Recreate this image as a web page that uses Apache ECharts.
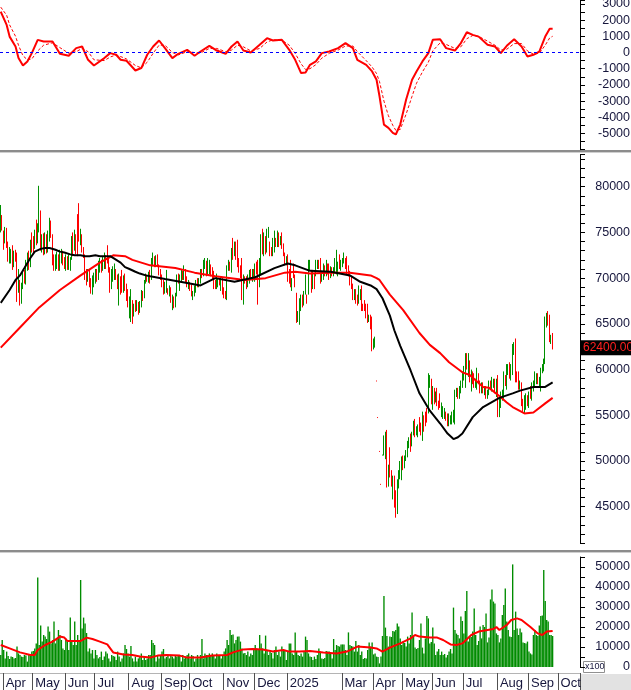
<!DOCTYPE html>
<html><head><meta charset="utf-8">
<script src="https://cdn.jsdelivr.net/npm/echarts@6/dist/echarts.min.js"></script>
<style>html,body{margin:0;padding:0;background:#fff;overflow:hidden}#c{width:631px;height:690px}</style>
</head><body><div id="c"></div>
<script>
const TOTAL_SLOTS = 392;
const monthSlots = [2,22,44,64,87,109,128,151,172,194,231,252,272,292,313,336,357,377];
const monthNames = ['Apr','May','Jun','Jul','Aug','Sep','Oct','Nov','Dec','2025','Mar','Apr','May','Jun','Jul','Aug','Sep','Oct'];

const opens = [
75300,76600,75000,74200,75000,73800,72000,72000,73400,71600,
73000,72600,68500,69600,67600,69000,70500,69800,71000,72600,
71400,74700,74000,73400,76300,74200,75300,77200,73300,74600,
73000,74600,73000,74500,76000,74600,72300,71000,71500,72300,
71000,72000,72800,72000,71000,72200,71000,71200,72200,74600,
73200,74500,75500,76800,73800,74600,73200,72500,70800,69800,
70600,69800,68400,69200,69500,70800,70000,71000,71800,71000,
71400,72200,73300,72000,71000,69000,70000,70200,70800,70200,
68400,70000,70600,68600,70200,69000,68400,66000,66400,67000,
66000,67200,66600,67200,66400,67000,68400,68000,69600,70300,
69800,70600,69900,71600,72300,71500,72400,71300,70900,70200,
69500,68500,68600,68800,68300,68800,66800,67800,67000,68200,
70300,69000,69800,70600,70000,70800,70000,69000,69400,69200,
67800,68200,68600,69800,69200,69600,70800,70400,71200,71600,
70600,70600,71400,70800,70600,69600,69000,69200,69800,68800,
69800,68800,68400,68000,71000,71600,71000,74000,72600,73800,
73600,72000,71200,71800,68000,70000,70000,69200,69600,70800,
69800,70800,70000,71600,71600,69400,70800,75200,72600,74400,
73000,74600,73800,73200,72600,73200,74200,73600,74800,73800,
74800,73600,72600,71600,72400,70600,71600,69000,71200,70200,
68000,65400,65200,66800,68000,67200,68400,68000,68400,71000,
70600,69000,70400,70400,71200,71800,72000,69800,70200,71200,
70400,71400,71000,70200,71000,70400,70800,70800,70600,72200,
71000,71400,71800,72000,72200,71200,70600,70000,69200,67800,
68600,68000,67400,68000,69000,67000,67400,67000,67000,65400,
65800,65600,62400,62600,58800,54800,51100,47500,50600,50700,
50600,52800,47600,51200,48600,46000,47800,46400,44600,47400,
48400,48200,50400,49400,50200,50600,51600,52800,51800,53000,
54400,53000,52800,54600,54000,52600,54800,55200,55600,55600,
58400,58800,56400,57800,56600,57800,56400,57000,55200,55000,
55000,55200,55000,54000,54200,54200,54600,54400,57200,57800,
57000,57600,58200,59000,58400,61400,59400,60800,58200,59600,
59400,58200,58400,59400,58600,57600,58400,57400,58000,57000,
57400,58600,57800,58200,58800,57400,59000,55200,56000,56800,
57400,59200,58000,59600,60400,59000,59600,61800,63200,59600,
59400,58000,58400,56600,55600,55800,57000,56000,57800,57000,
57800,58200,58600,59400,58400,58000,59800,60200,60800,64800,
66000,65800,63000,63600];

const closes = [
77800,75400,73500,75300,73800,72300,73000,72800,71500,72600,
72000,68000,70500,67500,69000,70500,69800,71600,72500,71400,
73600,73200,72900,75000,74000,75600,78300,73600,74500,73300,
74600,73000,74800,76200,74700,72000,71000,72200,72600,71200,
72600,72800,71800,71400,72200,71200,72300,72000,74200,73000,
74800,73000,72800,74600,75000,73100,72500,70200,69600,70800,
69400,68800,70000,70300,70800,70000,71500,71800,71000,72000,
72400,71400,72000,70900,68800,70600,71000,71200,70000,69000,
70200,68600,68600,70000,69000,67800,67000,67600,68200,65600,
67000,66600,67400,66400,67200,68400,67800,69600,70300,69800,
70400,69600,71800,72400,71500,72200,71300,70600,70000,69300,
68400,69300,70600,68300,68900,67600,68000,66900,68000,70200,
69600,70200,70600,70000,71200,69800,69200,69600,68800,68200,
68300,69000,69600,69200,69800,70800,70200,71600,71800,70400,
71800,71600,70400,70000,69200,69000,70000,69800,69400,69800,
68400,68000,67900,71000,71600,71000,72800,72400,73800,72300,
71600,70800,70200,68200,70000,69600,69000,70000,70600,70000,
70800,70200,71400,70600,69800,71400,74200,73200,74600,73000,
75000,75200,72600,72600,74000,74800,73600,74600,73800,74400,
73400,72600,71600,72200,70400,69800,69200,69800,70200,69200,
65400,66000,67600,68000,67000,68300,70200,67400,71400,71800,
68800,70600,69400,71600,71800,71200,70000,70600,71400,70400,
71600,70600,70200,71000,70600,71000,72000,72600,71400,71200,
71800,72000,72500,71400,70600,70400,69400,69000,67800,68600,
67600,67200,68800,68400,66800,66600,66600,65800,65400,65900,
64600,62200,63200,63000,58700,54700,51000,47400,50700,52400,
52800,47600,49200,48600,47600,47800,45200,44600,47600,48600,
49600,50200,49400,50400,51000,52000,52400,51400,53000,54200,
53000,53600,53800,53400,53000,55000,53600,54000,54400,58800,
59000,56800,57800,56600,57400,56200,55800,56000,56200,55800,
55600,54600,54200,55000,54800,55200,55400,57600,57800,57000,
58000,58600,59400,60000,61400,60400,61200,59000,59600,58600,
58200,58800,59600,58600,57800,58400,57600,58000,57000,57600,
58600,58000,58800,58800,57800,58600,56400,56600,57000,57400,
59200,58400,60000,60200,59200,60200,62200,62600,59400,58800,
58200,58600,56400,55600,56800,57000,56200,57200,57000,58200,
58400,59400,59200,58600,59000,59800,60400,61000,65400,65800,
65200,63200,63600,62400];

const lows = [
75000,75200,73100,73800,73300,71800,71600,71600,70900,71200,
71800,67400,68400,67000,67200,68800,69400,69300,70800,70900,
71200,72800,72600,73200,73600,73800,75000,73000,72800,72500,
72600,72700,72800,74000,74400,71400,70800,70800,71000,70800,
70800,71600,71400,71000,70800,70900,70900,70800,72000,72400,
73000,72600,72400,74000,73600,72800,72200,69800,69200,69600,
69000,68300,68200,69000,69400,69600,69800,70600,70600,70800,
71000,71000,71600,70600,68400,68800,69600,69800,69800,68800,
67000,68200,68400,68400,68600,67500,66800,65600,65200,65000,
65800,66300,66400,66000,66200,66800,67500,67800,69400,69600,
69500,69400,69800,71300,71200,71200,71200,70300,69800,69000,
68200,68300,68400,68200,68000,67300,66500,66700,66800,68000,
69400,68600,69600,69800,69800,69500,69000,68800,68600,68000,
67600,68000,68400,69000,69000,69400,70000,70200,71000,70200,
70400,70400,70200,69800,68800,68800,68800,69000,69200,68600,
68200,67800,67700,67600,70800,70800,70600,72000,72400,72000,
71200,70600,70000,67600,67100,69400,68800,69000,69400,69800,
69600,70000,69600,70400,67100,69000,70400,72600,72400,72600,
72800,74400,72400,72400,72400,72800,73400,73400,73400,73600,
73200,72400,71400,71400,69600,69400,69000,68600,70000,69000,
65100,65200,64900,66400,66800,67000,68200,67200,68200,70800,
68400,68800,68800,70200,71000,71000,69400,69600,69800,70200,
70200,70400,69800,70000,70200,70200,70600,70400,70200,71000,
70800,71200,71600,71000,70400,70200,69200,68800,67600,67600,
67200,67000,67200,67600,66400,66400,66400,65600,65100,65200,
64400,62000,62200,62400,58700,54700,51000,47400,50600,50600,
50200,47100,47200,48200,47200,45800,44900,43800,44200,47000,
48000,47900,49000,49200,50000,50400,51400,51000,51600,52800,
52600,52800,52600,53200,52800,52200,53200,53800,54200,55200,
58000,56200,55600,56200,56400,56000,55600,55800,54800,54600,
54600,54400,53800,53800,54000,54000,54200,54000,57000,56800,
56800,57400,58000,58800,58000,60000,59200,58600,57600,58400,
58000,58000,57800,58400,57400,57400,57400,57200,56800,56800,
57200,57800,57600,58000,57400,57000,54800,54800,55800,56600,
56800,58200,57800,59400,59000,58800,59400,61600,58600,58600,
57800,57800,56000,55400,55200,55600,56000,55800,56800,56600,
57600,58000,58400,58400,58200,57600,59600,59800,60600,64600,
64800,63000,62800,62200];

const highs = [
78000,76900,75200,75600,75500,74000,73400,73200,73600,73000,
73100,72800,71000,69800,69500,70900,70900,72000,72800,73000,
74200,75000,74600,75300,76400,76000,80100,77400,74800,74900,
75000,74800,75200,76600,76300,74800,72600,72600,72900,72600,
73100,73200,73000,72300,72600,72400,72600,72300,74600,75000,
75300,74800,77000,78200,75400,74800,73400,72600,71000,71000,
70900,70000,70300,70600,71000,71000,71900,72200,72000,72300,
72800,72500,73600,72300,71200,71000,71300,71600,71000,70400,
70500,70200,70900,70300,70500,69400,68800,68000,68800,67600,
67200,67600,67600,67400,67500,68700,68600,69800,70500,70400,
70700,70900,72200,72800,72400,72500,72600,71500,71000,70400,
69800,69600,70900,68900,69200,69000,68200,68000,68400,70400,
70500,70400,70900,70800,71400,71000,70200,69800,69600,69300,
68600,69200,69800,70000,70000,71000,71000,72000,72200,71900,
72200,72000,71500,71200,70800,69800,70500,70000,70000,70200,
70000,69000,68600,71400,72000,71800,73300,74400,74000,74000,
74200,72200,71400,72200,70400,70200,70200,70400,70900,71000,
71000,71000,71600,71800,72000,72200,74800,75400,75000,74600,
75400,75600,74000,73400,74400,75200,74400,75200,75000,74600,
75000,73800,72800,72400,72600,71000,72000,70000,71600,70400,
68400,66400,67800,68200,68200,68600,70400,68200,72000,72000,
70900,70900,70600,72000,72000,72000,72200,70800,71600,71400,
72000,71600,71600,71300,71200,71200,72200,73100,71800,72600,
72000,72200,72800,72200,72400,71400,70800,70200,69400,68800,
68800,68200,69200,68800,69200,67200,67600,67200,67200,66000,
66000,65800,63400,63600,58800,54800,51100,47500,50700,52800,
53200,53400,49600,51500,49000,48400,48400,46800,48000,49000,
50000,50500,50600,50600,51200,52200,52600,53000,53200,54400,
54600,53800,54000,54800,54200,55400,55000,55400,55800,59600,
59400,59000,58200,58000,57600,58000,56600,57400,56400,56000,
55800,55400,55200,55200,55000,55400,55600,57800,58000,58000,
58200,58800,59800,60400,61800,61800,61800,61000,60000,59800,
59600,59000,60200,59600,58800,58600,58600,58200,58200,57800,
58800,58800,59200,59000,59000,59000,59400,57000,57600,57800,
59800,59400,60600,60600,60800,60600,62800,63000,63400,59800,
59800,58800,58600,56800,57200,57400,57200,57600,58200,58600,
58800,59800,59600,59600,59200,60200,60600,61200,65800,66200,
66400,66000,63800,64000];

const volumes = [
6000,13500,8500,4300,7700,5500,4000,5200,5000,4300,
4500,10200,6800,6000,5200,5000,6000,5800,2700,6000,
6200,7700,8000,9300,11800,44700,11000,20700,12700,16000,
15200,14000,20200,17700,11800,13500,22700,11800,14300,18500,
16000,13500,9300,8500,14300,12700,8500,24700,12700,11000,
22700,11000,16000,12700,43500,19300,24700,21800,17000,7700,
9300,6800,8500,4300,8500,6000,4300,5000,7700,3500,
5200,7700,6800,4300,2700,6000,5500,5200,3500,7700,
5200,2700,4300,6800,11000,9000,6800,5200,10500,4300,
2700,5200,2700,4300,5000,6800,3500,5200,3500,4300,
6000,6000,13500,12000,11000,2700,6000,4300,6000,7700,
9000,4300,5000,6000,4300,6000,5200,4300,6000,5200,
6000,5500,2700,6000,4300,5200,6000,6800,4300,6000,
5500,2700,4300,6000,4300,6000,14000,4300,6800,6000,
6000,6800,6000,6800,6000,4300,6800,6000,5500,4300,
6000,7700,9300,13500,11000,18500,16000,16300,11800,13500,
15200,15200,12700,9300,6800,7000,6000,7700,5200,6800,
6000,9300,11000,9300,9000,16000,11800,9300,6800,15700,
8500,6000,7700,7000,4300,8500,10200,6000,7700,5200,
10200,8500,8000,3500,7700,11800,11800,6800,6000,17300,
7700,6000,5500,6800,5200,7700,15200,13500,6800,5200,
5000,3500,5200,4000,6000,9300,7700,4300,4000,4500,
8000,7700,7700,6800,4300,14000,8500,11000,10500,10200,
11300,11300,11300,8500,6000,17300,11000,10500,10200,7700,
13000,7700,11000,6000,7700,4000,4500,4300,8500,12300,
10200,12300,6300,6800,5200,5000,1800,5200,15500,35500,
19700,15500,10200,15200,15000,18000,17700,18500,21800,20200,
14300,11000,12700,12000,10200,15200,11800,16000,27300,15200,
9700,9000,9500,13500,21800,9700,6800,14300,25500,24300,
11800,12500,19700,11800,6000,7700,9000,6000,7700,6000,
6500,4700,6000,7700,9000,6700,29700,18500,16700,16000,
14300,25200,23000,16800,28000,38000,12700,15200,15000,17700,
29300,16000,11000,13000,20200,14300,21000,20000,26800,12300,
14700,33800,38800,32700,31800,16800,16000,12300,14300,26000,
31000,39300,22700,18500,15200,15000,51300,18500,27700,19300,
16000,19300,17300,12300,12000,11800,12700,7700,6800,6300,
16000,18500,16000,15500,20700,25500,25700,48500,33000,23500,
22700,16000,16000,15500];

const maFastSlots = [0,6,10,13,16,20,23,27,30,33,37,40,43,47,50,54,57,60,64,67,70,74,77,81,84,87,91,94,98,101,111,125,135,145,158,172,185,194,199,209,223,236,243,250,254,258,263,266,270,277,283,290,297,302,306,309,312,319,326,337,346,351,360,368,373];
const maFastValues = [67300,68700,69800,70300,71100,72200,72900,73200,73300,73300,73100,72900,72800,72600,72500,72500,72400,72400,72500,72400,72400,72400,72100,71700,71200,71000,70700,70500,70300,70200,69900,69500,69200,70000,69600,70100,71100,71600,71400,70800,70700,70300,69600,69200,68800,67800,65900,64300,62600,59900,57400,55500,54100,53000,52400,52600,53000,54800,55900,56900,57400,57700,58100,58100,58600];

const maSlowSlots = [0,13,26,40,54,67,76,84,89,101,118,131,145,165,179,192,199,209,222,236,250,254,256,263,272,283,290,297,303,312,317,326,330,337,342,346,354,360,368,373];
const maSlowValues = [62400,64600,66800,68700,70300,71700,72500,72400,72000,71400,71100,70600,70200,69800,70000,70600,70700,70500,70600,70600,70300,70000,69800,68200,66500,64000,62700,61800,60800,59700,59400,58100,58000,57100,56400,55900,55200,55300,56300,56900];

const volMASlots = [0,6,13,20,23,25,30,35,40,43,45,54,58,62,67,72,76,83,89,94,101,106,112,121,126,135,143,153,157,164,170,177,184,191,195,202,209,218,227,234,241,250,254,258,263,270,277,280,283,290,295,299,304,308,312,318,323,329,333,335,337,342,345,349,352,358,363,366,369,373];
const volMAValues = [11000,9300,7300,6000,6000,8500,11000,12700,15200,14700,13000,13000,14700,14000,12700,11300,7300,6300,6000,5200,4700,5700,6000,5700,4700,4700,5700,6000,7300,8800,9000,8800,7700,8500,7700,7700,8000,7300,6700,7700,10200,9700,9300,7700,9700,11800,14300,16000,15200,14700,14700,13500,11300,11000,11800,16000,17700,18500,19000,20000,18500,21000,23500,24300,23500,20000,16800,16000,17700,18000];

const macdSlots = [0,4,6,10,12,15,18,21,25,29,35,40,46,51,55,59,63,70,74,78,81,85,91,95,99,103,107,111,116,120,126,131,135,141,146,152,156,160,164,169,175,180,184,190,195,199,203,206,209,213,217,222,228,233,238,241,247,251,254,256,259,262,265,267,270,274,278,281,285,289,292,297,301,307,311,315,319,323,329,334,338,342,347,352,356,360,364,368,371,373];
const macdValues = [2520,1700,980,370,-345,-800,-550,-40,780,680,680,-80,-200,270,370,-450,-800,-345,-40,-140,-450,-510,-1110,-960,-140,370,740,270,-345,-80,165,-200,60,410,120,-80,370,680,120,0,475,885,740,780,165,-450,-1270,-1230,-760,-550,-40,60,270,580,270,-450,-760,-1170,-1680,-2700,-4450,-4650,-4960,-5060,-4450,-2900,-1680,-1170,-550,-40,780,820,270,120,580,1250,1090,980,475,370,-40,410,820,370,-245,-140,60,980,1460,1460];
const signalValues = [2800,2300,1700,1000,450,-200,-450,-400,100,450,600,300,-50,50,250,50,-450,-500,-280,-150,-250,-400,-800,-950,-600,-50,450,450,0,-150,50,0,-30,250,250,50,150,450,350,100,250,650,780,770,450,-50,-700,-1050,-1000,-750,-350,-50,150,400,400,50,-500,-900,-1300,-1800,-3000,-3900,-4500,-4800,-4750,-3800,-2700,-1900,-1200,-600,100,600,500,250,350,850,1050,1000,700,450,150,200,550,550,100,-100,-50,450,900,1000];

const FONT = "'Liberation Sans', Arial, sans-serif";
const LABEL_COLOR = '#16163c';
const UP = '#009000', DOWN = '#ff0000', VOL = '#008c00';

const categories = Array.from({length: TOTAL_SLOTS}, (_, i) => {
  const k = monthSlots.indexOf(i); return k >= 0 ? monthNames[k] : '';
});
const candleData = opens.map((o, i) => [o, closes[i], lows[i], highs[i]]);
const pairs = (slots, vals) => slots.map((s, i) => [s, vals[i]]);
const lastClose = closes[closes.length - 1];

function yAx(gridIndex, min, max, interval, labelEvery, hideAtOrBelow) {
  return {
    type: 'value', gridIndex, position: 'right', min, max, interval,
    axisLine: {show: true, onZero: false, lineStyle: {color: '#000', width: 1}},
    axisTick: {show: true, inside: false, length: 5, lineStyle: {color: '#000', width: 1}},
    splitLine: {show: false},
    axisLabel: {
      show: true, margin: 50, align: 'right', fontFamily: FONT, fontSize: 12.5, color: LABEL_COLOR,
      formatter: v => (Math.abs(v % labelEvery) < 1e-6 && v > hideAtOrBelow && v < max) ? String(v) : ''
    }
  };
}
const hiddenX = gi => ({type: 'category', gridIndex: gi, data: categories, boundaryGap: true, show: false});

const chart = echarts.init(document.getElementById('c'), null, {renderer: 'canvas'});
chart.setOption({
  animation: false,
  backgroundColor: '#ffffff',
  grid: [
    {left: 0, top: 0, width: 580, height: 149.7, containLabel: false, outerBoundsMode: 'none'},
    {left: 0, top: 154.7, width: 580, height: 388.6, containLabel: false, outerBoundsMode: 'none'},
    {left: 0, top: 557, width: 580, height: 110, containLabel: false, outerBoundsMode: 'none'}
  ],
  xAxis: [
    hiddenX(0), hiddenX(1),
    {
      type: 'category', gridIndex: 2, data: categories, boundaryGap: true, offset: 6,
      axisLine: {show: true, onZero: false, lineStyle: {color: '#b4b4b4', width: 1}},
      axisTick: {show: true, inside: false, length: 17, interval: (i) => monthSlots.includes(i), lineStyle: {color: '#505050', width: 1}},
      axisLabel: {show: true, interval: 0, align: 'left', margin: 4, padding: [0, 0, 0, 2], fontFamily: FONT, fontSize: 13, color: LABEL_COLOR},
      splitLine: {show: false}
    }
  ],
  yAxis: [
    yAx(0, -6000, 3240, 500, 1000, -6000),
    yAx(1, 41000, 83500, 1000, 5000, 41000),
    yAx(2, 0, 55000, 5000, 10000, -1)
  ],
  series: [
    {
      type: 'line', xAxisIndex: 0, yAxisIndex: 0, data: pairs(macdSlots, signalValues), symbol: 'none',
      lineStyle: {color: '#ff0000', width: 1, type: [3, 2]}, z: 2
    },
    {
      type: 'line', xAxisIndex: 0, yAxisIndex: 0, data: pairs(macdSlots, macdValues), symbol: 'none',
      lineStyle: {color: '#ff0000', width: 2}, z: 3,
      markLine: {
        silent: true, symbol: 'none', animation: false, label: {show: false},
        lineStyle: {color: '#0000ff', type: [3, 3], width: 1}, data: [{yAxis: 0}]
      }
    },
    {
      type: 'candlestick', xAxisIndex: 1, yAxisIndex: 1, data: candleData, barWidth: 1,
      itemStyle: {color: UP, color0: DOWN, borderColor: UP, borderColor0: DOWN, borderColorDoji: DOWN, borderWidth: 1},
      z: 2
    },
    {
      type: 'line', xAxisIndex: 1, yAxisIndex: 1, data: pairs(maSlowSlots, maSlowValues), symbol: 'none',
      lineStyle: {color: '#ff0000', width: 2}, z: 4,
      markLine: {
        silent: true, symbol: 'none', animation: false,
        lineStyle: {color: 'rgba(255,255,255,0)', width: 1},
        label: {
          show: true, position: 'end', distance: 1, formatter: lastClose.toFixed(2),
          color: '#ff2020', backgroundColor: '#000000', padding: [2, 2, 1, 2],
          fontFamily: FONT, fontSize: 12
        },
        data: [{yAxis: lastClose}]
      }
    },
    {
      type: 'line', xAxisIndex: 1, yAxisIndex: 1, data: pairs(maFastSlots, maFastValues), symbol: 'none',
      lineStyle: {color: '#000000', width: 2}, z: 5
    },
    {
      type: 'bar', xAxisIndex: 2, yAxisIndex: 2, data: volumes, barCategoryGap: '8%',
      itemStyle: {color: VOL}, z: 2
    },
    {
      type: 'line', xAxisIndex: 2, yAxisIndex: 2, data: pairs(volMASlots, volMAValues), symbol: 'none',
      lineStyle: {color: '#ff0000', width: 2}, z: 4
    }
  ],
  graphic: [
    {type: 'rect', silent: true, shape: {x: 0, y: 150, width: 631, height: 2}, style: {fill: '#8c8c8c'}},
    {type: 'rect', silent: true, shape: {x: 0, y: 152, width: 631, height: 1}, style: {fill: '#cfcfcf'}},
    {type: 'rect', silent: true, shape: {x: 0, y: 550, width: 631, height: 2}, style: {fill: '#8c8c8c'}},
    {type: 'rect', silent: true, shape: {x: 0, y: 552, width: 631, height: 1}, style: {fill: '#cfcfcf'}},
    {type: 'rect', silent: true, shape: {x: 581, y: 674, width: 50, height: 16}, style: {fill: '#e2e2e2'}},
    {type: 'rect', silent: true, shape: {x: 583.5, y: 661.5, width: 21, height: 11}, style: {fill: '#ffffff', stroke: '#909090', lineWidth: 1}},
    {type: 'text', silent: true, x: 585, y: 662.5, style: {text: 'x100', fontFamily: FONT, fontSize: 9, fill: '#16163c'}}
  ]
});
</script>
</body></html>
